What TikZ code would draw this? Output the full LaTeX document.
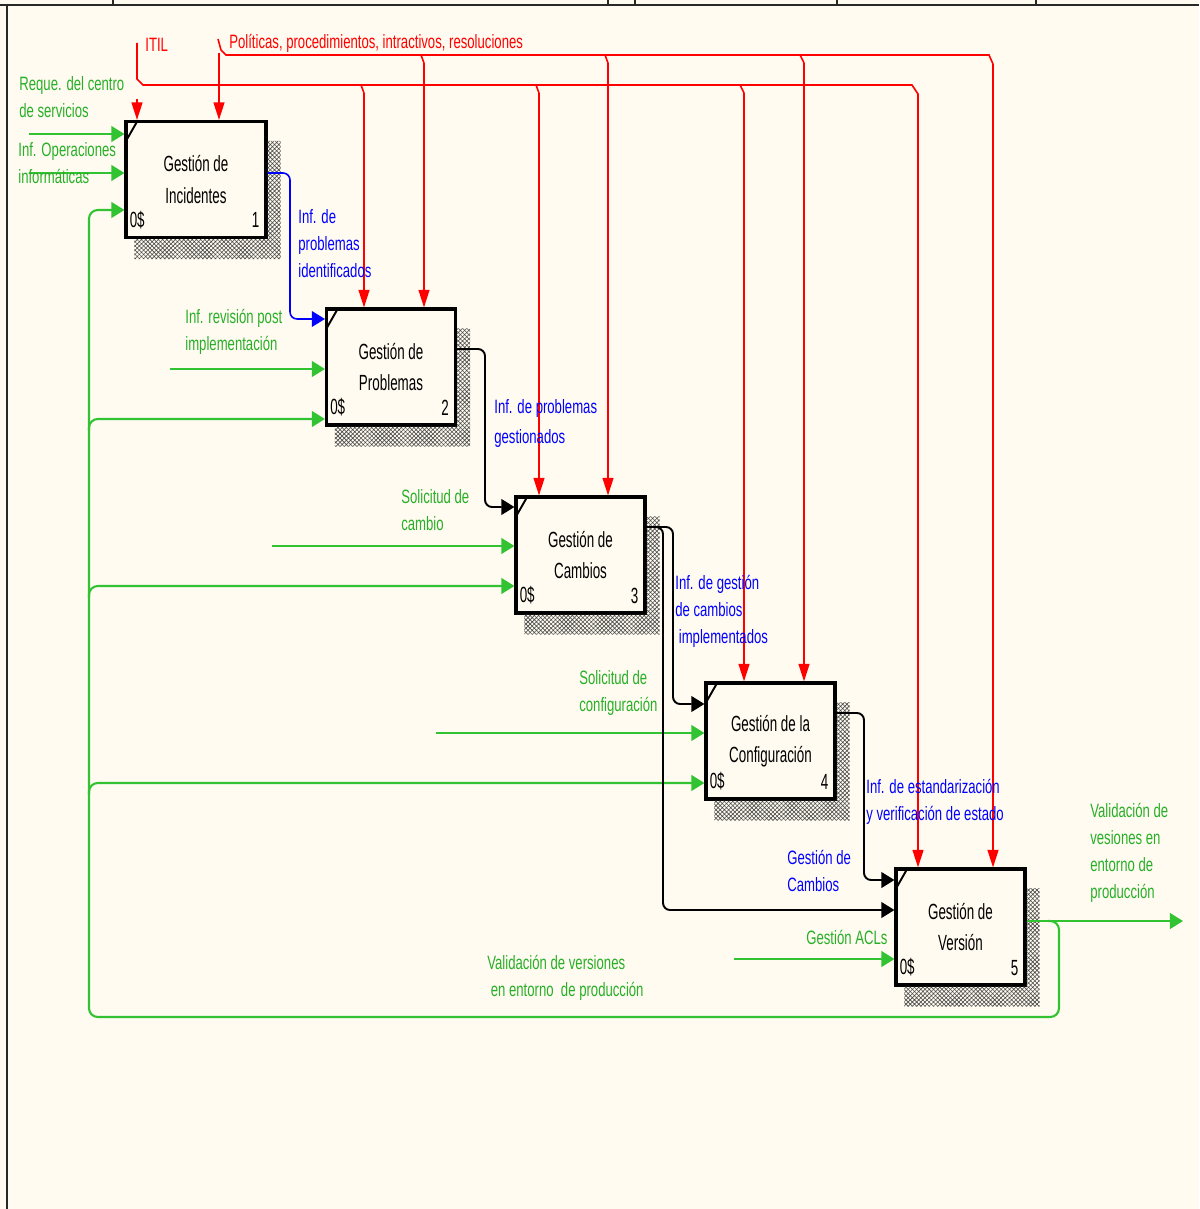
\documentclass[tikz,border=0pt]{standalone}
\usepackage{fontspec}
\setmainfont{Liberation Sans}
\newfontfamily\boxfont[FakeStretch=0.61]{Liberation Sans}
\newfontfamily\lblfont[FakeStretch=0.68]{Liberation Sans}
\usetikzlibrary{arrows.meta,patterns.meta,calc}
\definecolor{paper}{RGB}{255,251,240}
\definecolor{flowgreen}{RGB}{50,195,50}
\definecolor{txtgreen}{RGB}{40,175,40}
\definecolor{ctrlred}{RGB}{255,0,0}
\definecolor{infoblue}{RGB}{0,0,255}
\definecolor{framegray}{RGB}{40,40,40}

% hatched drop shadow to the right of and below an activity box
\newcommand\idefshadow[1]{%
  \fill[pattern={Hatch[angle=45,distance=1.7pt,line width=0.35pt]},pattern color=black!70]
    ($(#1.north east)+(0,21)$) -- ++(13,0) -- ($(#1.south east)+(13,20)$)
    -- ($(#1.south west)+(10,20)$) -- ($(#1.south west)+(10,0)$)
    -- (#1.south east) -- cycle;}
% box decorations: corner tick, "0$" and box number
\newcommand\idefmarks[2]{%
  \draw[line width=1.1pt] ($(#1.north west)+(1,22)$) -- ($(#1.north west)+(13,1)$);
  \node[cornertext,anchor=west] (#1zero) at ($(#1.south west)+(5,-19)$) {0\$};
  \node[cornertext,anchor=east] (#1num) at ($(#1.south east)+(-8,-19)$) {#2};}

\begin{document}
\begin{tikzpicture}[x=0.02cm,y=-0.02cm,
  activity/.style={draw,line width=1.8pt,fill=paper,minimum width=2.58cm,
    minimum height=2.32cm,inner sep=0,align=center,
    font=\boxfont\fontsize{12.5}{18}\selectfont},
  cornertext/.style={inner sep=0,font=\boxfont\fontsize{12.5}{15}\selectfont},
  lbl/.style={anchor=north west,inner sep=0,align=left,
    font=\lblfont\fontsize{11}{15.3}\selectfont},
  gtip/.style={-{Triangle[length=7.5pt,width=9pt]}},
  rtip/.style={-{Triangle[length=10pt,width=6.2pt]}},
  inflow/.style={draw=flowgreen,line width=1.2pt,gtip},
  ctrl/.style={draw=ctrlred,line width=0.9pt},
  ctrlarrow/.style={ctrl,rtip},
  infoflow/.style={draw=infoblue,line width=0.9pt,gtip,rounded corners=4pt},
  outflow/.style={draw=black,line width=1.1pt,gtip,rounded corners=4pt},
]
% page
\useasboundingbox (0,0) rectangle (1199,1209);
\fill[paper] (0,0) rectangle (1199,1209);
\draw[framegray,line width=1.6pt] (0,5) -- (1199,5);
\foreach \dx in {113,608,635,837,1036}
  \draw[framegray,line width=0.8pt] (\dx,0) -- (\dx,5);
\draw[framegray,line width=0.9pt] (7,5) -- (7,1209);

% activity boxes
\node[activity,minimum width=2.8cm] (b1) at (196,179.5) {Gestión de\\Incidentes};
\node[activity] (b2) at (391,367) {Gestión de\\Problemas};
\node[activity] (b3) at (580.5,555) {Gestión de\\Cambios};
\node[activity] (b4) at (770.5,741) {Gestión de la\\Configuración};
\node[activity] (b5) at (960.5,927) {Gestión de\\Versión};
\idefshadow{b1}\idefshadow{b2}\idefshadow{b3}\idefshadow{b4}\idefshadow{b5}
\idefmarks{b1}{1}\idefmarks{b2}{2}\idefmarks{b3}{3}\idefmarks{b4}{4}\idefmarks{b5}{5}

% controls: ITIL
\draw[ctrl] (137,43) -- (137,79) -- (143,85) -- (912,85) -- (918,94) -- (918,100);
\draw[ctrlarrow] (918,100) -- (918,0 |- b5.north);
\draw[ctrlarrow] (137,99) -- (137,0 |- b1.north);
\draw[ctrl] (361,85) -- (364,93);
\draw[ctrlarrow] (364,93) -- (364,0 |- b2.north);
\draw[ctrl] (536,85) -- (539,93);
\draw[ctrlarrow] (539,93) -- (539,0 |- b3.north);
\draw[ctrl] (740,85) -- (744,93);
\draw[ctrlarrow] (744,93) -- (744,0 |- b4.north);
% controls: policies
\draw[ctrl] (218,39) -- (221,50) -- (226,55) -- (989,55) -- (993,64);
\draw[ctrlarrow] (993,64) -- (993,0 |- b5.north);
\draw[ctrlarrow] (219,53) -- (219,0 |- b1.north);
\draw[ctrl] (421,55) -- (424,63);
\draw[ctrlarrow] (424,63) -- (424,0 |- b2.north);
\draw[ctrl] (605,55) -- (608,63);
\draw[ctrlarrow] (608,63) -- (608,0 |- b3.north);
\draw[ctrl] (800,55) -- (804,63);
\draw[ctrlarrow] (804,63) -- (804,0 |- b4.north);

% external inputs
\draw[inflow] (29,134) -- (b1.west |- 0,134);
\draw[inflow] (29,173) -- (b1.west |- 0,173);
\draw[inflow] (170,369) -- (b2.west |- 0,369);
\draw[inflow] (272,546) -- (b3.west |- 0,546);
\draw[inflow] (436,733) -- (b4.west |- 0,733);
\draw[inflow] (734,959) -- (b5.west |- 0,959);

% final output and its feedback loop
\draw[inflow] (b5.east |- 0,921) -- (1183,921);
\draw[flowgreen,line width=1.2pt,rounded corners=5pt,gtip]
  (1048,921) -| (1059,1017) -| (89,210) -- (b1.west |- 0,210);
\draw[flowgreen,line width=1.2pt,rounded corners=5pt,gtip] (89,430) |- (b2.west |- 0,419);
\draw[flowgreen,line width=1.2pt,rounded corners=5pt,gtip] (89,597) |- (b3.west |- 0,586);
\draw[flowgreen,line width=1.2pt,rounded corners=5pt,gtip] (89,794) |- (b4.west |- 0,783);

% outputs passed between activities
\draw[infoflow] (b1.east |- 0,173) -| (290,319) -- (b2.west |- 0,319);
\draw[outflow] (b2.east |- 0,349) -| (485,507) -- (b3.west |- 0,507);
\draw[outflow] (b3.east |- 0,527) -| (673,704) -- (b4.west |- 0,704);
\draw[outflow] (b3.east |- 0,527) -| (663,910) -- (b5.west |- 0,910);
\draw[outflow] (b4.east |- 0,713) -| (864,880) -- (b5.west |- 0,880);

% arrow labels
\node[lbl,text=ctrlred] (litil) at (145,38) {ITIL};
\node[lbl,text=ctrlred] (lpol) at (229,34) {Políticas, procedimientos, intractivos, resoluciones};
\node[lbl,text=txtgreen] (lreq) at (19,76) {Reque. del centro\\de servicios};
\node[lbl,text=txtgreen] (lops) at (18,142) {Inf. Operaciones\\informáticas};
\node[lbl,text=infoblue] (lident) at (298,209) {Inf. de\\problemas\\identificados};
\node[lbl,text=txtgreen] (lrev) at (185,309) {Inf. revisión post\\implementación};
\node[lbl,text=infoblue,font=\lblfont\fontsize{11}{17}\selectfont] (lgest) at (494,399) {Inf. de problemas\\gestionados};
\node[lbl,text=txtgreen] (lsolc) at (401,489) {Solicitud de\\cambio};
\node[lbl,text=infoblue] (limpl) at (675,575) {Inf. de gestión\\de cambios\\\hspace*{2pt}implementados};
\node[lbl,text=txtgreen] (lsolconf) at (579,670) {Solicitud de\\configuración};
\node[lbl,text=infoblue] (lestd) at (866,779) {Inf. de estandarización\\y verificación de estado};
\node[lbl,text=infoblue] (lgcam) at (787,850) {Gestión de\\Cambios};
\node[lbl,text=txtgreen] (lacl) at (806,930) {Gestión ACLs};
\node[lbl,text=txtgreen] (lvalr) at (1090,803) {Validación de\\vesiones en\\entorno de\\producción};
\node[lbl,text=txtgreen] (lvalb) at (487,955) {Validación de versiones\\\hspace*{2pt}en entorno\ \ de producción};
\end{tikzpicture}
\end{document}
